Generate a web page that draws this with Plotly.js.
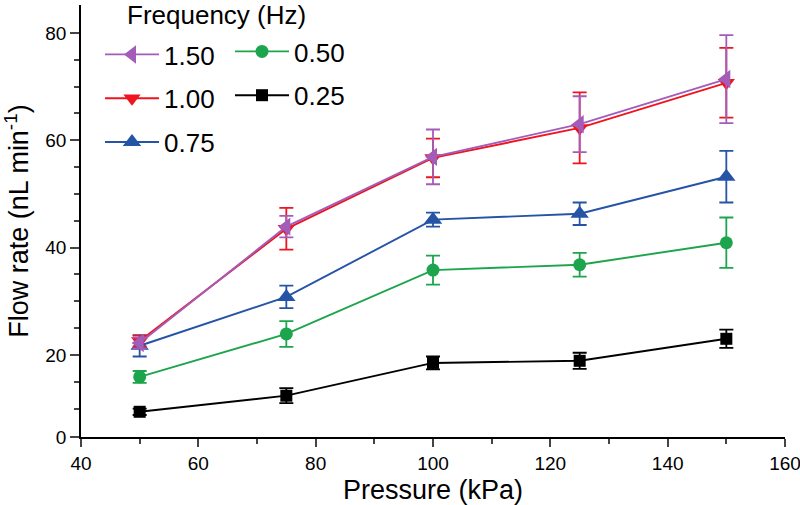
<!DOCTYPE html>
<html>
<head>
<meta charset="utf-8">
<script src="https://cdn.plot.ly/plotly-3.0.1.min.js"></script>
<style>
  html, body { margin: 0; padding: 0; background: #fff; }
  #plot { width: 800px; height: 505px; }
</style>
</head>
<body>
<div id="plot"></div>
<script>
// pressure (kPa)
const pressure = [50, 75, 100, 125, 150];

// flow rate (nL/min) per frequency, with +/- error
const flow150 = [22.2, 43.9, 56.9, 63.0, 71.4];
const err150 = [1.0, 2.0, 5.1, 5.2, 8.2];
const flow100 = [22.6, 43.5, 56.7, 62.3, 70.7];
const err100 = [1.0, 3.9, 3.6, 6.6, 6.5];
const flow075 = [21.7, 30.8, 45.2, 46.3, 53.2];
const err075 = [2.0, 2.1, 1.3, 2.1, 4.8];
const flow050 = [15.9, 23.9, 35.8, 36.8, 40.9];
const err050 = [1.1, 2.4, 2.7, 2.2, 4.7];
const flow025 = [9.4, 12.4, 18.5, 18.9, 23.0];
const err025 = [0.6, 1.4, 1.2, 1.5, 1.7];

// y tick labels (the lowest one sits at the axis bottom)
const yTickVals = [4.7, 20, 40, 60, 80];
const yTickText = ["0", "20", "40", "60", "80"];
const yMinorVals = [10, 15, 25, 30, 35, 45, 50, 55, 65, 70, 75];

const font = "Liberation Sans, Arial, sans-serif";

// plot area in px, used to place the legends inside it
const plotL = 81, plotT = 5, plotW = 704, plotH = 432;

function series(name, y, err, color, symbol, size, legend, rank) {
  return {
    x: pressure,
    y: y,
    name: name,
    type: "scatter",
    mode: "lines+markers",
    legend: legend,
    legendgroup: name,
    legendrank: rank,
    line: { color: color, width: 1.9 },
    marker: { color: color, symbol: symbol, size: size },
    error_y: {
      type: "data",
      array: err,
      visible: true,
      color: color,
      thickness: 1.8,
      width: 7,
    },
  };
}

const data = [
  series("0.25", flow025, err025, "#000000", "square", 12, "legend2", 2),
  series("0.50", flow050, err050, "#1ca54c", "circle", 13, "legend2", 1),
  series("0.75", flow075, err075, "#2553a6", "triangle-up", 16, "legend", 3),
  series("1.00", flow100, err100, "#f0141e", "triangle-down", 15, "legend", 2),
  series("1.50", flow150, err150, "#a35cb8", "triangle-left", 16, "legend", 1),
];

const legendStyle = {
  xanchor: "left",
  yanchor: "top",
  bgcolor: "rgba(0,0,0,0)",
  font: { family: font, size: 26, color: "#000" },
  traceorder: "grouped",
  tracegroupgap: 7,
  itemwidth: 54,
};

function legendAt(px, py) {
  return Object.assign({}, legendStyle, {
    x: (px - plotL) / plotW,
    y: 1 - (py - plotT) / plotH,
  });
}

const layout = {
  width: 800,
  height: 505,
  margin: { l: plotL, r: 800 - plotL - plotW, t: plotT, b: 505 - plotT - plotH },
  paper_bgcolor: "#fff",
  plot_bgcolor: "#fff",
  showlegend: true,
  font: { family: font, color: "#000" },
  xaxis: {
    range: [40, 160],
    tickvals: [40, 60, 80, 100, 120, 140, 160],
    ticks: "outside",
    ticklen: 8,
    tickwidth: 1.5,
    showline: true,
    linewidth: 1.5,
    linecolor: "#000",
    showgrid: false,
    zeroline: false,
    tickfont: { size: 19 },
    ticklabeloverflow: "allow",
    minor: { tickvals: [50, 70, 90, 110, 130, 150], ticks: "outside", ticklen: 5, tickwidth: 1.5 },
    title: { text: "Pressure (kPa)", font: { size: 27 }, standoff: 8 },
  },
  yaxis: {
    range: [4.7, 85.2],
    tickmode: "array",
    tickvals: yTickVals,
    ticktext: yTickText,
    ticks: "outside",
    ticklen: 9,
    tickwidth: 1.5,
    showline: true,
    linewidth: 1.5,
    linecolor: "#000",
    showgrid: false,
    zeroline: false,
    tickfont: { size: 19 },
    minor: { tickvals: yMinorVals, ticks: "outside", ticklen: 5, tickwidth: 1.5 },
    title: { text: "Flow rate (nL min<sup>-1</sup>)", font: { size: 27 }, standoff: 9 },
  },
  legend: legendAt(100, 31),
  legend2: legendAt(230, 28),
  annotations: [
    {
      text: "Frequency (Hz)",
      xref: "paper",
      yref: "paper",
      x: (125 - plotL) / plotW,
      y: 1 - (15 - plotT) / plotH,
      xanchor: "left",
      yanchor: "middle",
      showarrow: false,
      font: { family: font, size: 26, color: "#000" },
    },
  ],
};

Plotly.newPlot("plot", data, layout, { displayModeBar: false });
</script>
</body>
</html>
